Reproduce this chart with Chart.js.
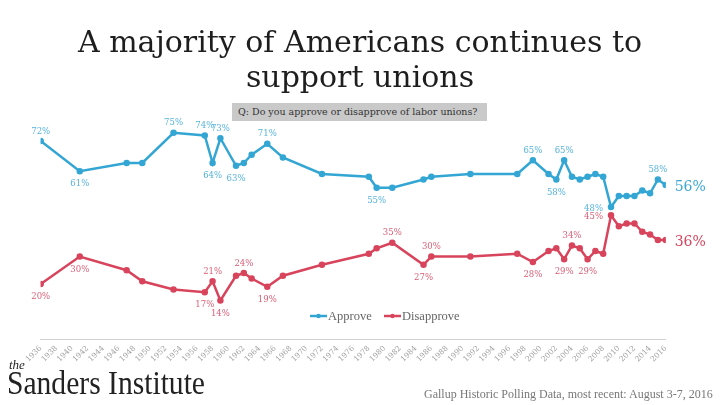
<!DOCTYPE html>
<html>
<head>
<meta charset="utf-8">
<script src="https://cdn.jsdelivr.net/npm/chart.js@4.4.1/dist/chart.umd.min.js"></script>
<style>
  html, body { margin: 0; padding: 0; background: #fff; width: 720px; height: 405px; overflow: hidden; }
  #wrap { position: relative; width: 720px; height: 405px; }
  canvas { position: absolute; left: 0; top: 0; }
  .t { position: absolute; white-space: nowrap; font-family: "DejaVu Serif", serif; }
  #title { left: 0; width: 720px; text-align: center; top: 24px; font-size: 30px; line-height: 35px; color: #1e1e1e; }
  #q { left: 232px; top: 103px; width: 255px; height: 18px; background: #c9c9c9; font-size: 9.5px; line-height: 18px; color: #333; padding-left: 6px; box-sizing: border-box; }
  #the { left: 9px; top: 358px; font-size: 13px; line-height: 13px; font-style: italic; font-family: "Liberation Serif", serif; color: #222; }
  #brand { left: 7px; top: 366px; font-size: 34px; line-height: 34px; font-family: "Liberation Serif", serif; color: #222; transform-origin: left top; transform: scaleX(0.87); }
  #foot { left: 424px; top: 387px; font-size: 12px; line-height: 14px; font-family: "Liberation Serif", serif; color: #777; }
</style>
</head>
<body>
<div id="wrap">
  <canvas id="c" width="720" height="405"></canvas>
  <div class="t" id="title">A majority of Americans continues to<br>support unions</div>
  <div class="t" id="q">Q: Do you approve or disapprove of labor unions?</div>
  <div class="t" id="the">the</div>
  <div class="t" id="brand">Sanders Institute</div>
  <div class="t" id="foot">Gallup Historic Polling Data, most recent: August 3-7, 2016</div>
</div>
<script>
// ---- data ----
const years = [1936,1941,1947,1949,1953,1957,1958,1959,1961,1962,1963,1965,1967,1972,1978,1979,1981,1985,1986,1991,1997,1999,2001,2002,2003,2004,2005,2006,2007,2008,2009,2010,2011,2012,2013,2014,2015,2016];
const approve = [72,61,64,64,75,74,64,73,63,64,67,71,66,60,59,55,55,58,59,60,60,65,60,58,65,59,58,59,60,59,48,52,52,52,54,53,58,56];
const disapprove = [20,30,25,21,18,17,21,14,23,24,22,19,23,27,31,33,35,27,30,30,31,28,32,33,29,34,33,29,32,31,45,41,42,42,39,38,36,36];
const seriesNames = ["Approve", "Disapprove"];
const tickStart = 1936, tickEnd = 2016, tickStep = 2;
// labelled points: [year, placement]
const approveLabels = [[1936,"a"],[1941,"b"],[1953,"a"],[1957,"a"],[1958,"b"],[1959,"a"],[1961,"b"],[1965,"a"],[1979,"b"],[1999,"a"],[2002,"b"],[2003,"a"],[2009,"l"],[2015,"a"]];
const disapproveLabels = [[1936,"b"],[1941,"b"],[1957,"b"],[1958,"a"],[1959,"b"],[1962,"a"],[1965,"b"],[1981,"a"],[1985,"b"],[1986,"a"],[1999,"b"],[2003,"b"],[2004,"a"],[2006,"b"],[2009,"l"]];

const BLUE = "#33a6d4", RED = "#d8445c";
const BLUE_L = "#55b3dc", RED_L = "#d85e75";

const labelPlugin = {
  id: "labels",
  afterDatasetsDraw(chart) {
    const ctx = chart.ctx;
    const xs = chart.scales.x, ys = chart.scales.y;
    const sets = [[approve, approveLabels, BLUE_L, "#3aa7d5"], [disapprove, disapproveLabels, RED_L, "#d5455e"]];
    ctx.save();
    sets.forEach(([vals, labs, col, endCol]) => {
      ctx.fillStyle = col;
      ctx.font = '8.5px "DejaVu Serif"';
      labs.forEach(([yr, pos]) => {
        const i = years.indexOf(yr);
        const px = xs.getPixelForValue(yr), py = ys.getPixelForValue(vals[i]);
        let x = px, y = py;
        ctx.textBaseline = "middle";
        if (pos === "a") { ctx.textAlign = "center"; y = py - 9.5; }
        else if (pos === "b") { ctx.textAlign = "center"; y = py + 13; }
        else { ctx.textAlign = "right"; x = px - 8; y = py + 2; }
        ctx.fillText(vals[i] + "%", x, y);
      });
      const last = vals.length - 1;
      ctx.fillStyle = endCol;
      ctx.font = '14px "DejaVu Serif"';
      ctx.textAlign = "left"; ctx.textBaseline = "middle";
      ctx.fillText(vals[last] + "%", xs.getPixelForValue(years[last]) + 9, ys.getPixelForValue(vals[last]) + 2.5);
    });
    // legend
    const ly = 316;
    const items = [[seriesNames[0], BLUE, 310], [seriesNames[1], RED, 384]];
    ctx.font = '12.5px "Liberation Serif"';
    ctx.textAlign = "left"; ctx.textBaseline = "middle";
    items.forEach(([name, col, x0]) => {
      ctx.strokeStyle = col; ctx.lineWidth = 2.5;
      ctx.beginPath(); ctx.moveTo(x0, ly); ctx.lineTo(x0 + 17, ly); ctx.stroke();
      ctx.fillStyle = col; ctx.beginPath(); ctx.arc(x0 + 8.5, ly, 2.2, 0, Math.PI * 2); ctx.fill();
      ctx.fillStyle = "#666";
      ctx.fillText(name, x0 + 18, ly + 0.5);
    });
    ctx.restore();
  }
};

const toPts = (vals) => years.map((y, i) => ({ x: y, y: vals[i] }));

new Chart(document.getElementById("c"), {
  type: "line",
  data: {
    datasets: [
      { label: seriesNames[0], data: toPts(approve), borderColor: BLUE, backgroundColor: BLUE, borderWidth: 2.5, pointRadius: 2, pointHoverRadius: 2, tension: 0 },
      { label: seriesNames[1], data: toPts(disapprove), borderColor: RED, backgroundColor: RED, borderWidth: 2.5, pointRadius: 2, pointHoverRadius: 2, tension: 0 }
    ]
  },
  options: {
    responsive: false,
    animation: false,
    events: [],
    layout: { padding: { left: 40.7, right: 54.3, top: 119, bottom: 0 } },
    plugins: { legend: { display: false }, tooltip: { enabled: false }, title: { display: false } },
    scales: {
      x: {
        type: "linear", min: tickStart, max: tickEnd,
        afterFit: (s) => { s.height = 66; },
        afterBuildTicks: (s) => { const t = []; for (let v = tickStart; v <= tickEnd; v += tickStep) t.push({ value: v }); s.ticks = t; },
        grid: { display: false, drawTicks: false },
        border: { display: true, color: "#d2d2d2", width: 1 },
        ticks: {
          autoSkip: false, minRotation: 45, maxRotation: 45, padding: 5,
          color: "#a0a0a0", font: { family: "DejaVu Serif", size: 7.5 },
          callback: (v) => String(v)
        }
      },
      y: { display: false, min: 0, max: 80 }
    }
  },
  plugins: [labelPlugin]
});
</script>
</body>
</html>
